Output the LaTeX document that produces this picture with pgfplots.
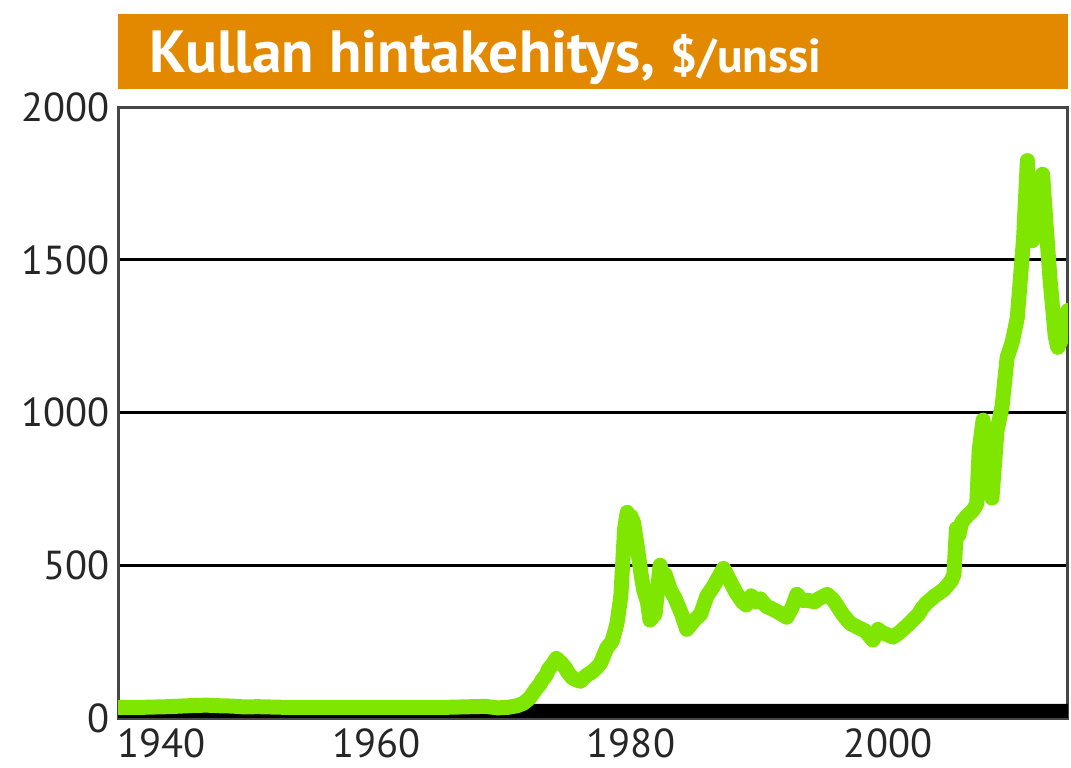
\documentclass[border=0pt]{standalone}
\usepackage{fontspec}
\setmainfont{PT Sans}
\usepackage{pgfplots}
\pgfplotsset{compat=1.18}
\definecolor{goldline}{RGB}{126,230,0}
\definecolor{titlebar}{RGB}{226,137,0}
\definecolor{frame}{RGB}{70,70,70}

\begin{document}
\begin{tikzpicture}
  % 1 px of the reference = 0.42pt
  \path[use as bounding box] (-49.6pt,-20.6pt) rectangle (400.3pt,301.6pt);
  \fill[titlebar] (0pt,264.2pt) rectangle (399pt,295.7pt);
  \node[anchor=base west, text=white, inner sep=0pt] at (13pt,271.3pt)
    {\bfseries\fontsize{25}{28}\selectfont Kullan hintakehitys, {\fontsize{20}{23}\selectfont \$/unssi}};
  \begin{axis}[
    at={(0,0)}, anchor=south west,
    scale only axis,
    width=399pt, height=256.6pt,
    xmin=1940, xmax=2015,
    ymin=0, ymax=2000,
    xtick={1943.4,1960.4,1980.5,2000.8},
    xticklabels={1940,1960,1980,2000},
    ytick={0,500,1000,1500,2000},
    major tick length=0pt,
    ymajorgrids,
    grid style={black, line width=1.2pt},
    axis line style={frame, line width=1.3pt},
    tick label style={font=\fontsize{17}{20}\selectfont, text=black!85},
    /pgf/number format/assume math mode=true,
    /pgf/number format/1000 sep={},
    yticklabel style={xshift=0pt},
    xticklabel style={yshift=-1pt},
    clip=true,
  ]
    % thick black band along the bottom
    \addplot[fill=black, draw=none] coordinates {
      (1940,0) (2015,0) (2015,46) (1940,46)
    } \closedcycle;
    \addplot[goldline, line width=6.3pt, line join=round, line cap=round] coordinates {
      (1940.0,34) (1941,35) (1942,35) (1943,36) (1944,37) (1945,39) (1946,41)
      (1947,42) (1948,40) (1949,39) (1950,36) (1951,37) (1952,36) (1953,35)
      (1955,35) (1958,35) (1960,35) (1962,35) (1964,35) (1966,35) (1968,37)
      (1969,38) (1970,33) (1970.8,35) (1971.5,40) (1972.0,48) (1972.5,65)
      (1973.0,95) (1973.3,110) (1973.5,125) (1973.8,140) (1974.0,160)
      (1974.3,175) (1974.6,195) (1975.0,180) (1975.3,165)
      (1975.5,150) (1975.9,130) (1976.2,125) (1976.5,120) (1977.0,140)
      (1977.4,150) (1977.8,165) (1978.1,180)
      (1978.3,200) (1978.6,230) (1979.0,250) (1979.4,310) (1979.7,400)
      (1980.0,620) (1980.2,673) (1980.4,640) (1980.5,660) (1980.7,640) (1981.0,560)
      (1981.3,470) (1981.5,420) (1981.8,380) (1982.0,320) (1982.4,340) (1982.8,500)
      (1983.0,440) (1983.2,470)
      (1983.6,420) (1984.0,390) (1984.3,360) (1984.5,340) (1984.9,290) (1985.5,320)
      (1986.0,340) (1986.5,400) (1987.0,430) (1987.4,460) (1987.8,490) (1988.3,450)
      (1988.8,410) (1989.3,380) (1989.6,370) (1990.0,400) (1990.4,380) (1990.7,390)
      (1991.2,365) (1991.5,360)
      (1992.2,345) (1992.8,330) (1993.2,360) (1993.6,405) (1994.0,385) (1994.5,385)
      (1995.0,380) (1995.3,390)
      (1996.0,405) (1996.5,385) (1997.2,340) (1997.8,310) (1998.5,295)
      (1999.0,285) (1999.6,255) (2000.0,290) (2000.3,280) (2000.6,275) (2001.2,265)
      (2001.7,280) (2002.5,310) (2003.2,340) (2003.5,360) (2003.8,375) (2004.5,400)
      (2005.2,420) (2005.8,450) (2006.0,470) (2006.2,620) (2006.4,600) (2006.6,640)
      (2007.0,660) (2007.5,680) (2007.8,700) (2008.0,880) (2008.3,975)
      (2008.6,850) (2009.0,720) (2009.4,940) (2009.8,1020) (2010.2,1180)
      (2010.6,1230) (2011.0,1310) (2011.5,1570) (2011.8,1825) (2012.0,1650)
      (2012.2,1563) (2012.6,1700) (2013.0,1780) (2013.3,1600) (2013.6,1430)
      (2014.0,1250) (2014.2,1213) (2014.6,1250) (2015.0,1334)
    };
  \end{axis}
\end{tikzpicture}
\end{document}
